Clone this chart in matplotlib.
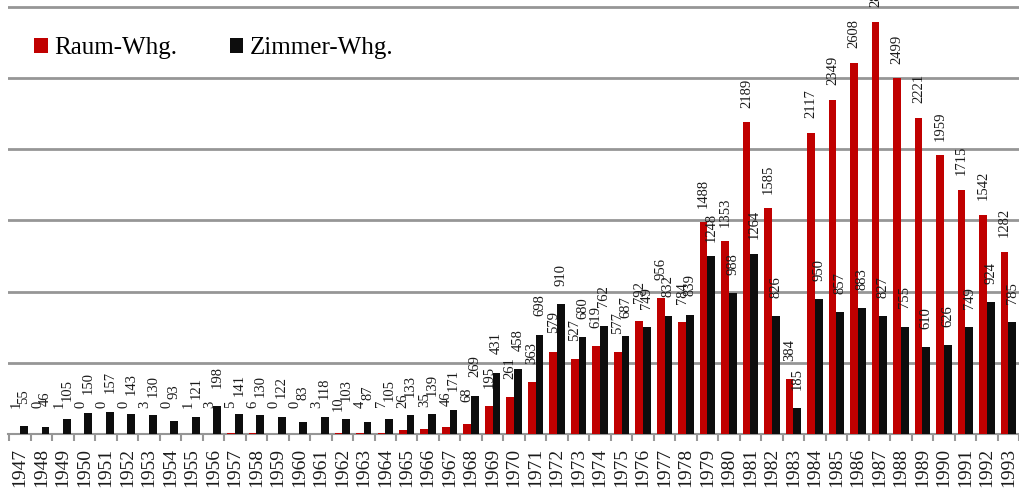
import numpy as np
import matplotlib.pyplot as plt
from matplotlib.ticker import MultipleLocator

# Data
years = list(range(1947, 1994))
raum = [1, 0, 1, 0, 0, 0, 3, 0, 1, 3, 5, 6, 0, 0, 3, 10, 4, 7, 26, 35,
        46, 68, 195, 261, 363, 579, 527, 619, 577, 792, 956, 784, 1488,
        1353, 2189, 1585, 384, 2117, 2349, 2608, 2897, 2499, 2221, 1959,
        1715, 1542, 1282]
zimmer = [55, 46, 105, 150, 157, 143, 130, 93, 121, 198, 141, 130, 122,
          83, 118, 103, 87, 105, 133, 139, 171, 269, 431, 458, 698, 910,
          680, 762, 687, 749, 832, 839, 1248, 988, 1264, 826, 185, 950,
          857, 883, 827, 755, 610, 626, 749, 924, 785]

plt.rcParams['font.family'] = ['Liberation Serif', 'DejaVu Serif']

red = '#c00000'
black = '#0d0d0d'
grid_col = '#969696'

fig = plt.figure(figsize=(10.19, 4.92), dpi=100)
ax = fig.add_axes([8 / 1019, 58 / 492, 1011 / 1019, 434 / 492])

x = np.arange(len(years))
w = 0.36
ax.bar(x - w / 2, raum, w, color=red, label='Raum-Whg.', zorder=3)
ax.bar(x + w / 2, zimmer, w, color=black, label='Zimmer-Whg.', zorder=3)

# value labels, rotated, centred a fixed distance above each bar
for xs, vals in ((x - w / 2, raum), (x + w / 2, zimmer)):
    for xi, v in zip(xs, vals):
        ax.annotate(str(v), (xi, v), xytext=(0, 21), textcoords='offset points',
                    rotation=90, ha='center', va='center', fontsize=10.5,
                    color='#1a1a1a', zorder=4)

ax.set_xlim(-0.56, 46.31)
ax.set_ylim(0, 3049)

ax.yaxis.set_major_locator(MultipleLocator(500))
ax.yaxis.grid(True, color=grid_col, linewidth=2, zorder=0)
ax.tick_params(axis='y', left=False, labelleft=False)

ax.set_xticks(x)
ax.set_xticklabels([str(y) for y in years], rotation=90, fontsize=14)
ax.set_xticks(np.append(x - 0.5, x[-1] + 0.5), minor=True)
ax.tick_params(axis='x', which='major', length=0, pad=10, colors='#1a1a1a')
ax.tick_params(axis='x', which='minor', length=5, width=1.5, color=grid_col)

for s in ('top', 'right', 'left'):
    ax.spines[s].set_visible(False)
ax.spines['bottom'].set_color(grid_col)
ax.spines['bottom'].set_linewidth(1.5)

ax.legend(loc='upper left', bbox_to_anchor=(26 / 1011, 1 - 37 / 434),
          ncol=2, frameon=False, fontsize=18, handlelength=0.55,
          handleheight=0.55, handletextpad=0.25, columnspacing=2.1,
          borderaxespad=0, borderpad=0)

fig.savefig('out.png', dpi=100)
